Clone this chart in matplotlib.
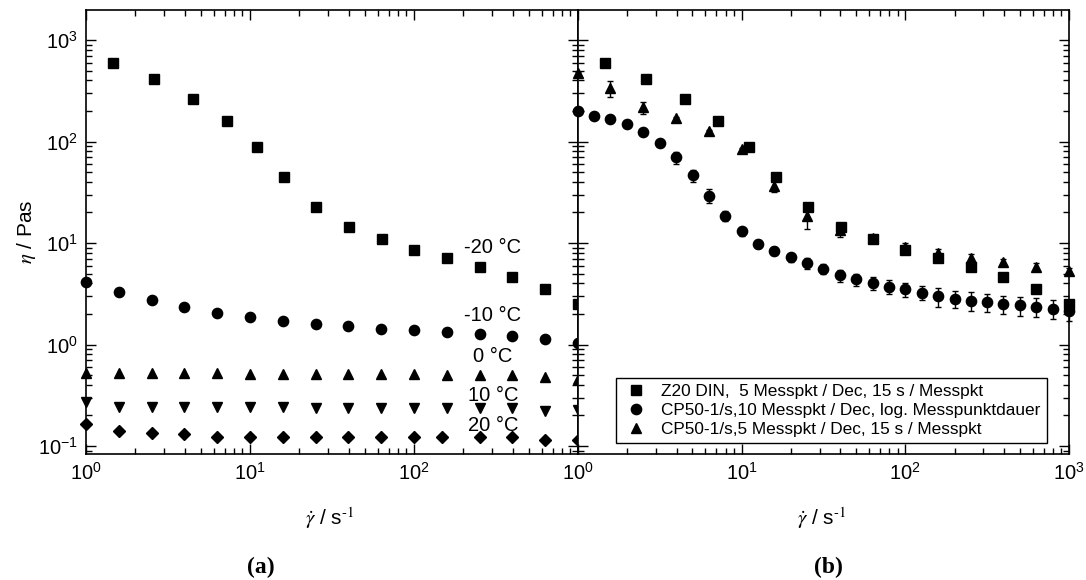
import numpy as np
import matplotlib
matplotlib.use("Agg")
import matplotlib.pyplot as plt
from matplotlib.lines import Line2D
from matplotlib.ticker import FuncFormatter

plt.rcParams['font.family'] = ['Liberation Sans', 'DejaVu Sans']
plt.rcParams['mathtext.fontset'] = 'stix'
plt.rcParams['axes.unicode_minus'] = False

# ---------------------------------
# Viscosity data (Pa s) vs shear rate (1/s)
# ---------------------------------
# -20 °C series, also the Z20 DIN run in panel (b)
rate_m20 = [1.46, 2.6, 4.5, 7.2, 11.1, 16.2, 25.4, 40.4, 63.4, 100, 158, 251, 398, 631, 1000]
eta_m20 = [593, 410, 262, 160, 87.7, 44.4, 22.8, 14.4, 10.9, 8.5, 7.06, 5.8, 4.66, 3.55, 2.5]

# 5 points per decade from 1 to 1000
rate_5 = [1.0, 1.58, 2.51, 3.98, 6.31, 10, 15.8, 25.1, 39.8, 63.1, 100, 158, 251, 398, 631, 1000]
eta_m10 = [4.16, 3.31, 2.74, 2.36, 2.06, 1.87, 1.72, 1.60, 1.52, 1.43, 1.38, 1.33, 1.27, 1.22, 1.13, 1.04]
eta_0 = [0.53, 0.52, 0.52, 0.52, 0.52, 0.51, 0.51, 0.51, 0.51, 0.51, 0.51, 0.50, 0.50, 0.50, 0.48, 0.46]
eta_10 = [0.27, 0.24, 0.24, 0.24, 0.24, 0.24, 0.24, 0.235, 0.235, 0.235, 0.235, 0.235, 0.235, 0.235, 0.22, 0.225]
rate_20 = [1.0, 1.58, 2.51, 3.98, 6.31, 10, 15.8, 25.1, 39.8, 63.1, 100, 148, 251, 398, 631, 1000]
eta_20 = [0.165, 0.142, 0.133, 0.132, 0.124, 0.123, 0.123, 0.123, 0.123, 0.123, 0.123, 0.123, 0.123, 0.123, 0.115, 0.115]

temp_labels = ['-20 °C', '-10 °C', '0 °C', '10 °C', '20 °C']
temp_label_y = [9.14, 1.95, 0.76, 0.318, 0.161]

# CP50-1/s, 10 points per decade, log. measuring time
rate_10 = [1.0, 1.26, 1.58, 2.0, 2.51, 3.16, 3.98, 5.01, 6.31, 7.94, 10, 12.6, 15.8, 20.0, 25.1,
           31.6, 39.8, 50.1, 63.1, 79.4, 100, 126, 158, 200, 251, 316, 398, 501, 631, 794, 1000]
eta_cp10 = [201, 179, 166, 150, 124, 96, 69.8, 46.4, 29.3, 18.6, 13.0, 9.84, 8.39, 7.22, 6.31,
            5.59, 4.81, 4.39, 4.01, 3.71, 3.50, 3.24, 3.00, 2.83, 2.70, 2.62, 2.52, 2.45, 2.36, 2.25, 2.15]
err_cp10 = [2, 2, 2, 2, 2, 2, 9.5, 6.0, 4.7, 2.2, 1.2, 0.9, 0.77, 0.66, 0.77,
            0.59, 0.65, 0.59, 0.57, 0.59, 0.56, 0.52, 0.63, 0.56, 0.57, 0.53, 0.51, 0.52, 0.50, 0.48, 0.46]

# CP50-1/s, 5 points per decade, 15 s per point
eta_cp5 = [476, 334, 217, 169, 127, 84.3, 36.7, 18.5, 13.4, 11.1, 9.2, 8.0, 7.2, 6.45, 5.85, 5.34]
err_cp5 = [8, 57, 29, 4, 3, 2, 4.8, 4.8, 1.9, 1.0, 0.8, 0.7, 0.6, 0.5, 0.5, 0.4]

legend_labels = ['Z20 DIN,  5 Messpkt / Dec, 15 s / Messpkt',
                 'CP50-1/s,10 Messpkt / Dec, log. Messpunktdauer',
                 'CP50-1/s,5 Messpkt / Dec, 15 s / Messpkt']

fig = plt.figure(figsize=(10.86, 5.80), dpi=100)
ax1 = fig.add_axes([0.0792, 0.2172, 0.4530, 0.7655])
ax2 = fig.add_axes([0.5322, 0.2172, 0.4521, 0.7655])

mk = dict(color='black', linestyle='none', clip_on=False, zorder=3)

# (a) temperature series
ax1.plot(rate_m20, eta_m20, marker='s', ms=6.7, **mk)
ax1.plot(rate_5, eta_m10, marker='o', ms=7.4, **mk)
ax1.plot(rate_5, eta_0, marker='^', ms=7.8, **mk)
ax1.plot(rate_5, eta_10, marker='v', ms=7.8, **mk)
ax1.plot(rate_20, eta_20, marker='D', ms=6.2, **mk)
for lab, yy in zip(temp_labels, temp_label_y):
    ax1.text(303, yy, lab, fontsize=14.5, ha='center', va='center')

# (b) measuring procedures
ax2.errorbar(rate_10, eta_cp10, yerr=err_cp10, fmt='none', ecolor='black',
             elinewidth=1, capsize=2.5, capthick=1, clip_on=False, zorder=2)
ax2.errorbar(rate_5, eta_cp5, yerr=err_cp5, fmt='none', ecolor='black',
             elinewidth=1, capsize=2.5, capthick=1, clip_on=False, zorder=2)
ax2.plot(rate_m20, eta_m20, marker='s', ms=6.7, **mk)
ax2.plot(rate_10, eta_cp10, marker='o', ms=7.4, **mk)
ax2.plot(rate_5, eta_cp5, marker='^', ms=7.8, **mk)

handles = [Line2D([], [], color='black', linestyle='none', marker='s', ms=6.7),
           Line2D([], [], color='black', linestyle='none', marker='o', ms=7.4),
           Line2D([], [], color='black', linestyle='none', marker='^', ms=7.8)]
leg = ax2.legend(handles, legend_labels, loc='lower right', bbox_to_anchor=(0.955, 0.025),
                 fontsize=12.4, frameon=True, fancybox=False, framealpha=1,
                 edgecolor='black', borderpad=0.35, labelspacing=0.22,
                 handlelength=1.6, handletextpad=0.7, borderaxespad=0)
leg.get_frame().set_linewidth(1.0)
leg.set_zorder(5)


def decade_label(v, pos, skip=None):
    if skip is not None and np.isclose(v, skip):
        return ''
    return r'$\mathdefault{10^{%d}}$' % int(round(np.log10(v)))


for ax in (ax1, ax2):
    ax.set_xscale('log')
    ax.set_yscale('log')
    ax.set_xlim(1, 1000)
    ax.set_ylim(0.0834, 1977)
    ax.tick_params(which='both', direction='in', top=True, right=True,
                   labelsize=14.5, width=1, pad=6)
    ax.tick_params(which='major', length=7)
    ax.tick_params(which='minor', length=4)
    ax.yaxis.set_major_formatter(FuncFormatter(decade_label))
    for sp in ax.spines.values():
        sp.set_linewidth(1.2)
# the shared border shows only the 10^0 of panel (b)
ax1.xaxis.set_major_formatter(FuncFormatter(lambda v, p: decade_label(v, p, skip=1000)))
ax2.xaxis.set_major_formatter(FuncFormatter(decade_label))
ax2.tick_params(labelleft=False)

fig.text(26 / 1086, 1 - 232 / 580, r'$\eta$ / Pas', rotation=90, fontsize=15,
         ha='center', va='center')
fig.text(330 / 1086, 1 - 518 / 580, r'$\dot{\gamma}$ / s$^{\text{-1}}$', fontsize=15,
         ha='center', va='center')
fig.text(822 / 1086, 1 - 518 / 580, r'$\dot{\gamma}$ / s$^{\text{-1}}$', fontsize=15,
         ha='center', va='center')
fig.text(261 / 1086, 1 - 567 / 580, '(a)', fontsize=17, fontweight='bold',
         family='Liberation Serif', ha='center', va='center')
fig.text(828 / 1086, 1 - 567 / 580, '(b)', fontsize=17, fontweight='bold',
         family='Liberation Serif', ha='center', va='center')

fig.savefig('out.png', dpi=100)
